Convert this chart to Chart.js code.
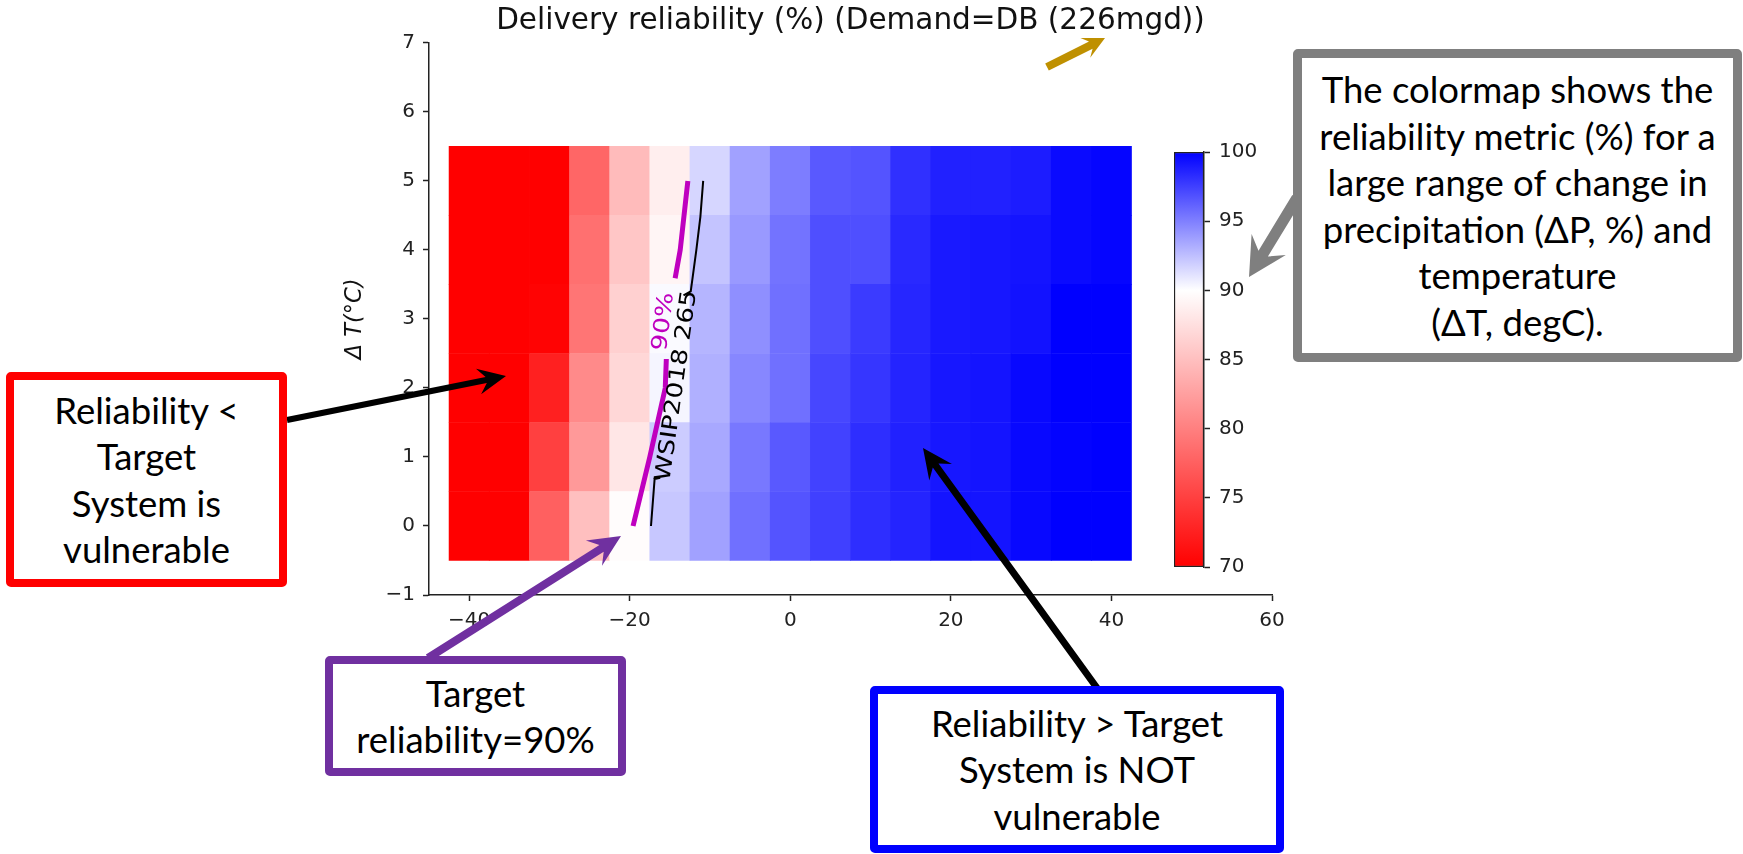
<!DOCTYPE html>
<html>
<head>
<meta charset="utf-8">
<title>Delivery reliability</title>
<script src="https://cdn.jsdelivr.net/npm/chart.js@4.4.1/dist/chart.umd.min.js"></script>
<style>
  html, body { margin: 0; padding: 0; background: #fff; overflow: hidden; }
  #page { position: relative; width: 1743px; height: 854px; }
  #main { position: absolute; left: 0; top: 0; width: 1743px; height: 854px; }
  #cbar { position: absolute; left: 1160px; top: 130px; width: 130px; height: 460px; }
  #arrows { position: absolute; left: 0; top: 0; }
  .note {
    position: absolute; box-sizing: border-box; background: #fff;
    border: 8px solid; border-radius: 5px;
    display: flex; flex-direction: column; justify-content: center; align-items: center;
    font-family: Lato, "Open Sans", sans-serif; font-size: 36.5px; line-height: 46.5px;
    color: #000; text-align: center; white-space: nowrap;
  }
</style>
</head>
<body>
<div id="page">
  <div id="main"><canvas id="heatmap"></canvas></div>
  <div id="cbar"><canvas id="colorbar"></canvas></div>
  <svg id="arrows" width="1743" height="854"></svg>
  <div class="note" style="left:6px; top:372px; width:281px; height:215px; border-color:#ff0000;">Reliability &lt;<br>Target<br>System is<br>vulnerable</div>
  <div class="note" style="left:325px; top:656px; width:301px; height:120px; border-color:#7030a0;">Target<br>reliability=90%</div>
  <div class="note" style="left:870px; top:686px; width:414px; height:167px; border-color:#0000ff;">Reliability &gt; Target<br>System is NOT<br>vulnerable</div>
  <div class="note" style="left:1293px; top:49px; width:449px; height:313px; border-color:#7f7f7f; border-width:9px;">The colormap shows the<br>reliability metric (%) for a<br>large range of change in<br>precipitation (ΔP, %) and<br>temperature<br>(ΔT, degC).</div>
</div>
<script>
// change in precipitation (%) and temperature (degC) of the stress-test grid
const precipChange = [-40, -35, -30, -25, -20, -15, -10, -5, 0, 5, 10, 15, 20, 25, 30, 35, 40];
const tempChange = [0, 1, 2, 3, 4, 5];

// delivery reliability (%), one row per temperature change
const reliability = [
  [62, 65, 77.5, 85.0, 89.8, 92.2, 93.7, 95.6, 96.7, 97.5, 98.2, 98.6, 99.2, 99.2, 99.7, 100, 100],
  [63, 66, 75.0, 82.0, 88.0, 92.0, 93.4, 95.3, 96.5, 97.4, 98.2, 98.7, 99.1, 99.2, 99.7, 99.9, 100],
  [64, 67, 72.5, 80.8, 86.9, 90.4, 93.1, 94.7, 95.6, 97.2, 97.9, 98.6, 99.1, 99.2, 99.7, 100, 100],
  [65, 67, 70.2, 79.2, 86.3, 90.2, 92.9, 94.4, 95.6, 96.9, 97.7, 98.5, 99.0, 99.1, 99.3, 100, 100],
  [66, 68, 69.5, 78.8, 85.5, 89.2, 92.3, 94.0, 95.5, 96.9, 96.9, 98.4, 99.0, 99.1, 99.2, 99.6, 99.8],
  [66, 68, 69.0, 78.0, 84.7, 88.7, 91.6, 93.7, 95.1, 96.5, 96.7, 98.1, 98.7, 98.7, 98.9, 99.6, 99.8]
];

// WSIP2018 265 mgd reference curve, split where its label sits
const wsipLower = [
  { x: -16.2, y: 0.70 }, { x: -16.9, y: 0.68 }, { x: -17.35, y: 0.0 }
];
const wsipUpper = [
  { x: -13.3, y: 3.34 }, { x: -12.4, y: 3.40 }, { x: -12.2, y: 3.57 },
  { x: -11.7, y: 4.0 }, { x: -11.2, y: 4.48 }, { x: -10.85, y: 5.0 }
];

const targetLevel = 90;
const labelGap = [2.42, 3.59];   // temperature span left open for the "90%" label

const xTicks = [-40, -20, 0, 20, 40, 60];
const yTicks = [-1, 0, 1, 2, 3, 4, 5, 6, 7];
const cbarTicks = [70, 75, 80, 85, 90, 95, 100];

// red -> white (at the target) -> blue
function reliabilityColor(v) {
  const lo = cbarTicks[0], hi = cbarTicks[cbarTicks.length - 1];
  if (v <= targetLevel) {
    const t = Math.min(1, Math.max(0, (v - lo) / (targetLevel - lo)));
    const g = Math.round(255 * t);
    return `rgb(255,${g},${g})`;
  }
  const t = Math.min(1, Math.max(0, (v - targetLevel) / (hi - targetLevel)));
  const r = Math.round(255 * (1 - t));
  return `rgb(${r},${r},255)`;
}

// where each row crosses the level, linear between cell centres
function rowCrossings(level) {
  const pts = [];
  tempChange.forEach((t, r) => {
    const row = reliability[r];
    for (let c = 0; c < row.length - 1; c++) {
      if (row[c] < level && row[c + 1] >= level) {
        const f = (level - row[c]) / (row[c + 1] - row[c]);
        pts.push({ x: precipChange[c] + f * (precipChange[c + 1] - precipChange[c]), y: t });
        break;
      }
    }
  });
  return pts;
}

function cutAt(a, b, y) {
  const f = (y - a.y) / (b.y - a.y);
  return { x: a.x + f * (b.x - a.x), y: y };
}

function splitContour(pts, lo, hi) {
  const below = [], above = [];
  for (let i = 0; i < pts.length; i++) {
    const p = pts[i], n = pts[i + 1];
    if (p.y <= lo) below.push(p);
    if (p.y >= hi) above.push(p);
    if (n && p.y <= lo && n.y > lo) below.push(cutAt(p, n, lo));
    if (n && p.y < hi && n.y >= hi) above.push(cutAt(p, n, hi));
  }
  return [below, above];
}

const [target90Lower, target90Upper] = splitContour(rowCrossings(targetLevel), labelGap[0], labelGap[1]);

const contourLabels = [
  { text: '90%', x: -15.75, y: 2.96, angle: -83, color: '#bf00bf' },
  { text: 'WSIP2018 265', x: -14.1, y: 2.03, angle: -82, color: '#000000' }
];

const tickFont = { family: 'DejaVu Sans', size: 20 };
const axisInk = '#222222';
const minus = v => (v < 0 ? '\u2212' + Math.abs(v) : String(v));

const tStep = tempChange[1] - tempChange[0];
const heatmapSets = tempChange.map((t, r) => ({
  type: 'bar',
  data: precipChange.map(p => ({ x: p, y: [t - tStep / 2, t + tStep / 2] })),
  backgroundColor: reliability[r].map(reliabilityColor),
  borderWidth: 0,
  barPercentage: 1,
  categoryPercentage: 1,
  grouped: false,
  order: 10
}));

const lineSet = (data, color, width) => ({
  type: 'line',
  data: data,
  borderColor: color,
  borderWidth: width,
  borderCapStyle: 'butt',
  pointRadius: 0,
  tension: 0,
  fill: false,
  order: 1
});

// inline contour labels, a little stretched along the baseline
const contourLabelPlugin = {
  id: 'contourLabels',
  afterDatasetsDraw(chart) {
    const { ctx, scales: { x, y } } = chart;
    contourLabels.forEach(l => {
      ctx.save();
      ctx.translate(x.getPixelForValue(l.x), y.getPixelForValue(l.y));
      ctx.rotate(l.angle * Math.PI / 180);
      ctx.scale(1.2, 1);
      ctx.font = '22px "DejaVu Sans"';
      ctx.fillStyle = l.color;
      ctx.textAlign = 'center';
      ctx.textBaseline = 'middle';
      ctx.fillText(l.text, 0, 0);
      ctx.restore();
    });
  }
};

new Chart(document.getElementById('heatmap'), {
  type: 'bar',
  data: {
    datasets: [
      lineSet(target90Lower, '#bf00bf', 5),
      lineSet(target90Upper, '#bf00bf', 5),
      lineSet(wsipLower, '#000000', 2),
      lineSet(wsipUpper, '#000000', 2),
      ...heatmapSets
    ]
  },
  options: {
    responsive: true,
    maintainAspectRatio: false,
    animation: false,
    layout: { padding: { left: 330, right: 471, top: 0, bottom: 199 } },
    plugins: {
      legend: { display: false },
      tooltip: { enabled: false },
      title: {
        display: true,
        fullSize: false,
        text: 'Delivery reliability (%) (Demand=DB (226mgd))',
        color: '#111111',
        font: { family: 'DejaVu Sans', size: 29.5, weight: 'normal' },
        padding: { top: 4, bottom: 3.5 }
      }
    },
    scales: {
      x: {
        type: 'linear',
        min: -45,
        max: 60,
        offset: false,
        afterBuildTicks: s => { s.ticks = xTicks.map(v => ({ value: v })); },
        afterFit: s => { s.height = 60; },
        grid: { drawOnChartArea: false, drawTicks: true, tickLength: 6, tickWidth: 1.5, color: axisInk, offset: false },
        border: { display: true, color: axisInk, width: 1.5 },
        ticks: { color: axisInk, font: tickFont, padding: 8, maxRotation: 0, callback: minus }
      },
      y: {
        type: 'linear',
        min: -1,
        max: 7,
        afterBuildTicks: s => { s.ticks = yTicks.map(v => ({ value: v })); },
        afterFit: s => { s.width = 99; },
        grid: { drawOnChartArea: false, drawTicks: true, tickLength: 6, tickWidth: 1.5, color: axisInk },
        border: { display: true, color: axisInk, width: 1.5 },
        ticks: { color: axisInk, font: tickFont, padding: 8, callback: minus },
        title: {
          display: true,
          text: 'Δ T(°C)',
          color: '#111111',
          font: { family: 'DejaVu Sans', size: 22.5, style: 'italic' },
          padding: { top: 12, bottom: 0 }
        }
      }
    }
  },
  plugins: [contourLabelPlugin]
});

// colour bar: one floating bar spanning the colour range
const cbarLo = cbarTicks[0], cbarHi = cbarTicks[cbarTicks.length - 1];
new Chart(document.getElementById('colorbar'), {
  type: 'bar',
  data: {
    labels: [''],
    datasets: [{
      data: [[cbarLo, cbarHi]],
      backgroundColor: ctx => {
        const chart = ctx.chart;
        if (!chart.chartArea) return '#ffffff';
        const y = chart.scales.y;
        const g = chart.ctx.createLinearGradient(0, y.getPixelForValue(cbarLo), 0, y.getPixelForValue(cbarHi));
        g.addColorStop(0, reliabilityColor(cbarLo));
        g.addColorStop((targetLevel - cbarLo) / (cbarHi - cbarLo), reliabilityColor(targetLevel));
        g.addColorStop(1, reliabilityColor(cbarHi));
        return g;
      },
      borderColor: axisInk,
      borderWidth: 1.5,
      borderSkipped: false,
      barPercentage: 1,
      categoryPercentage: 1
    }]
  },
  options: {
    responsive: true,
    maintainAspectRatio: false,
    animation: false,
    layout: { padding: { left: 14, right: 0, top: 22, bottom: 23 } },
    plugins: { legend: { display: false }, tooltip: { enabled: false } },
    scales: {
      x: { display: false },
      y: {
        position: 'right',
        min: cbarLo,
        max: cbarHi,
        afterBuildTicks: s => { s.ticks = cbarTicks.map(v => ({ value: v })); },
        afterFit: s => { s.width = 86; },
        grid: { drawOnChartArea: false, drawTicks: true, tickLength: 6, tickWidth: 1.5, color: axisInk },
        border: { display: true, color: axisInk, width: 1.5 },
        ticks: { color: axisInk, font: tickFont, padding: 9 }
      }
    }
  }
});

// callout arrows (stealth heads)
const svg = document.getElementById('arrows');
function arrow(x1, y1, x2, y2, shaft, headLen, headW, color) {
  const len = Math.hypot(x2 - x1, y2 - y1);
  const ux = (x2 - x1) / len, uy = (y2 - y1) / len;
  const px = -uy, py = ux;
  const bx = x2 - ux * headLen, by = y2 - uy * headLen;
  const nx = x2 - ux * headLen * 0.72, ny = y2 - uy * headLen * 0.72;
  const s = shaft / 2, h = headW / 2;
  const pts = [
    [x1 + px * s, y1 + py * s], [nx + px * s, ny + py * s], [bx + px * h, by + py * h],
    [x2, y2],
    [bx - px * h, by - py * h], [nx - px * s, ny - py * s], [x1 - px * s, y1 - py * s]
  ];
  const poly = document.createElementNS('http://www.w3.org/2000/svg', 'polygon');
  poly.setAttribute('points', pts.map(p => p[0].toFixed(1) + ',' + p[1].toFixed(1)).join(' '));
  poly.setAttribute('fill', color);
  svg.appendChild(poly);
}
arrow(287, 420, 506, 376, 6, 28, 26, '#000000');
arrow(428, 658, 621, 536, 8, 32, 30, '#7030a0');
arrow(1097, 688, 923, 448, 7, 30, 28, '#000000');
arrow(1297, 198, 1249, 277, 11, 38, 40, '#7f7f7f');
arrow(1047, 67, 1105, 38, 8, 22, 22, '#bf9000');
</script>
</body>
</html>
